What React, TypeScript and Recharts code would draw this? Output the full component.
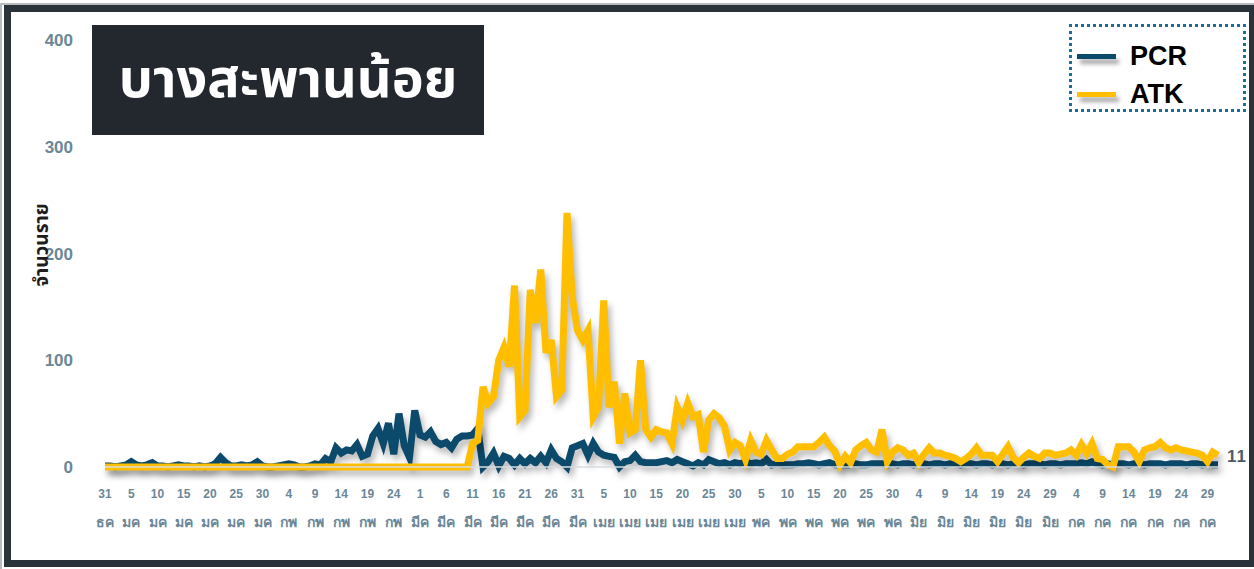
import React from "react";
import { LineChart, Line, XAxis, YAxis, LabelList } from "recharts";

// month labels (Thai abbreviations) and how many days of each are shown
const thaiMonths = ["ธค", "มค", "กพ", "มีค", "เมย", "พค", "มิย", "กค"];
const monthStartDay = [31, 1, 1, 1, 1, 1, 1, 1];
const monthEndDay = [31, 31, 28, 31, 30, 31, 30, 31];

// daily PCR cases, 31 Dec -> 31 Jul
const pcr = [
  1, 1, 0, 1, 2, 5, 2, 1, 2, 4,
  1, 1, 0, 1, 2, 1, 1, 0, 1, 0,
  1, 3, 9, 4, 1, 1, 2, 1, 2, 5,
  1, 0, 0, 1, 2, 3, 2, 0, 0, 1,
  3, 2, 8, 5, 18, 13, 16, 15, 21, 10,
  12, 29, 36, 22, 41, 12, 50, 20, 9, 53,
  30, 28, 33, 24, 21, 23, 18, 26, 29, 29,
  30, 36, 0, 5, 13, 1, 10, 8, 2, 8,
  3, 8, 4, 10, 4, 16, 8, 5, 0, 18,
  20, 22, 11, 22, 14, 11, 10, 9, 0, 5,
  6, 11, 5, 4, 4, 4, 5, 6, 4, 7,
  5, 3, 1, 4, 2, 7, 5, 3, 4, 2,
  4, 3, 5, 3, 4, 3, 7, 2, 3, 2,
  2, 2, 3, 3, 4, 3, 2, 3, 4, 2,
  2, 2, 2, 3, 2, 2, 3, 3, 3, 2,
  3, 2, 3, 3, 2, 3, 3, 2, 3, 3,
  2, 3, 3, 2, 3, 3, 2, 3, 3, 2,
  3, 3, 2, 3, 3, 2, 3, 3, 3, 2,
  3, 3, 2, 3, 3, 3, 4, 3, 5, 3,
  2, 3, 2, 3, 3, 2, 3, 3, 2, 3,
  3, 3, 2, 3, 3, 3, 2, 3, 3, 2,
  3, 2, 2,
];

// daily ATK cases, 31 Dec -> 31 Jul
const atk = [
  0, 0, 0, 0, 0, 0, 0, 0, 0, 0,
  0, 0, 0, 0, 0, 0, 0, 0, 0, 0,
  0, 0, 0, 0, 0, 0, 0, 0, 0, 0,
  0, 0, 0, 0, 0, 0, 0, 0, 0, 0,
  0, 0, 0, 0, 0, 0, 0, 0, 0, 0,
  0, 0, 0, 0, 0, 0, 0, 0, 0, 0,
  0, 0, 0, 0, 0, 0, 0, 0, 0, 0,
  22, 25, 75, 60, 66, 100, 112, 94, 170, 47,
  53, 166, 135, 185, 107, 119, 66, 72, 238, 159,
  128, 119, 128, 47, 56, 156, 56, 80, 22, 69,
  32, 35, 100, 35, 28, 35, 33, 32, 22, 56,
  44, 60, 47, 49, 14, 44, 50, 46, 38, 16,
  23, 20, 7, 25, 14, 12, 25, 16, 8, 8,
  12, 14, 19, 19, 19, 19, 23, 28, 20, 15,
  2, 10, 4, 16, 20, 23, 16, 14, 35, 5,
  14, 18, 16, 11, 13, 4, 12, 18, 13, 13,
  11, 10, 8, 5, 8, 12, 18, 11, 11, 11,
  5, 12, 19, 9, 4, 9, 13, 10, 8, 13,
  13, 11, 12, 13, 16, 11, 21, 13, 22, 8,
  7, 2, 0, 19, 19, 19, 14, 5, 16, 18,
  19, 23, 18, 16, 18, 16, 15, 14, 13, 11,
  5, 14, 11,
];

const yTicks = [0, 100, 200, 300, 400];

const days: { day: number; month: string }[] = [];
thaiMonths.forEach((m, mi) => {
  for (let d = monthStartDay[mi]; d <= monthEndDay[mi]; d++) {
    days.push({ day: d, month: m });
  }
});

const data = days.map((c, i) => ({
  idx: i,
  day: c.day,
  month: c.month,
  pcr: pcr[i],
  atk: atk[i],
}));

const PCR_COLOR = "#0c4a6b";
const ATK_COLOR = "#ffbf00";
const TICK_COLOR = "#6b8797";

const DateTick = (props: any) => {
  const { x, y, payload } = props;
  const item = data[payload.value];
  if (!item) return null;
  return (
    <g transform={`translate(${x},${y})`}>
      <text x={0} y={0} dy={23} textAnchor="middle" fill={TICK_COLOR} fontSize={12} fontWeight={700}>
        {item.day}
      </text>
      <text x={0} y={0} dy={52} textAnchor="middle" fill={TICK_COLOR} fontSize={14} fontWeight={700}>
        {item.month}
      </text>
    </g>
  );
};

const LastLabel = (props: any) => {
  const { x, y, index } = props;
  if (index !== data.length - 1) return null;
  return (
    <text x={x + 9} y={y + 2} fill="#4d5c67" fontSize={17} fontWeight={700} letterSpacing={1} dominantBaseline="middle">
      {atk[atk.length - 1]}
    </text>
  );
};

const LegendBox = () => (
  <div
    style={{
      position: "absolute",
      left: 1069,
      top: 24,
      width: 171,
      height: 82,
      border: "3px dotted #1b6e96",
      fontFamily: "Liberation Sans, Arial, sans-serif",
    }}
  >
    {[
      { name: "PCR", color: PCR_COLOR, top: 15 },
      { name: "ATK", color: ATK_COLOR, top: 53 },
    ].map((e) => (
      <div key={e.name} style={{ position: "absolute", left: 5, top: e.top, display: "flex", alignItems: "center" }}>
        <div style={{ width: 39, height: 5, background: e.color, boxShadow: "3px 5px 4px rgba(0,0,0,0.35)" }} />
        <span style={{ marginLeft: 14, fontSize: 27, fontWeight: 700, color: "#000", lineHeight: "28px" }}>{e.name}</span>
      </div>
    ))}
  </div>
);

export default function App() {
  return (
    <div
      style={{
        position: "fixed",
        left: 0,
        top: 0,
        width: 1254,
        height: 569,
        background: "#fff",
        overflow: "hidden",
        fontFamily: "Liberation Sans, Arial, sans-serif",
      }}
    >
      <style>{`.recharts-line-curve { filter: drop-shadow(3px 5px 3px rgba(0,0,0,0.28)); }`}</style>
      <div
        style={{
          position: "absolute",
          left: 0,
          top: 3,
          width: 1254,
          height: 566,
          borderLeft: "2px solid #b8bcc0",
          borderTop: "2px solid #b8bcc0",
          boxSizing: "border-box",
        }}
      />
      <div
        style={{
          position: "absolute",
          left: 4,
          top: 5,
          width: 1250,
          height: 562,
          border: "7px solid #2a3339",
          borderRightWidth: 5,
          boxSizing: "border-box",
        }}
      />
      <div style={{ position: "absolute", left: 0, top: 0 }}>
        <LineChart
          width={1254}
          height={569}
          data={data}
          margin={{ top: 40, right: 36, bottom: 0, left: 0 }}
        >
          <XAxis
            dataKey="idx"
            type="category"
            interval={4}
            tick={<DateTick />}
            tickLine={false}
            axisLine={{ stroke: "#d8dcdf", strokeWidth: 1.5 }}
            height={102}
          />
          <YAxis
            domain={[0, 400]}
            ticks={yTicks}
            width={105}
            tickLine={false}
            axisLine={false}
            tickSize={0}
            tickMargin={32}
            tick={{ fill: TICK_COLOR, fontSize: 17, fontWeight: 700 }}
          />
          <Line
            type="linear"
            dataKey="pcr"
            name="PCR"
            stroke={PCR_COLOR}
            strokeWidth={7}
            dot={false}
            isAnimationActive={false}
          />
          <Line
            type="linear"
            dataKey="atk"
            name="ATK"
            stroke={ATK_COLOR}
            strokeWidth={7}
            dot={false}
            isAnimationActive={false}
          >
            <LabelList dataKey="atk" content={<LastLabel />} />
          </Line>
        </LineChart>
      </div>
      <div
        style={{
          position: "absolute",
          left: 92,
          top: 25,
          width: 392,
          height: 110,
          background: "#22282e",
          color: "#fff",
          fontSize: 54,
          fontWeight: 700,
          display: "flex",
          alignItems: "center",
          justifyContent: "center",
          fontFamily: "Noto Sans Thai, Noto Sans, sans-serif",
        }}
      >
        บางสะพานน้อย
      </div>
      <div
        style={{
          position: "absolute",
          left: 42,
          top: 245,
          transform: "translate(-50%, -50%) rotate(-90deg)",
          fontSize: 19,
          fontWeight: 700,
          color: "#1d1d1d",
          whiteSpace: "nowrap",
          fontFamily: "Noto Sans Thai, Noto Sans, sans-serif",
        }}
      >
        จำนวนราย
      </div>
      <LegendBox />
    </div>
  );
}
